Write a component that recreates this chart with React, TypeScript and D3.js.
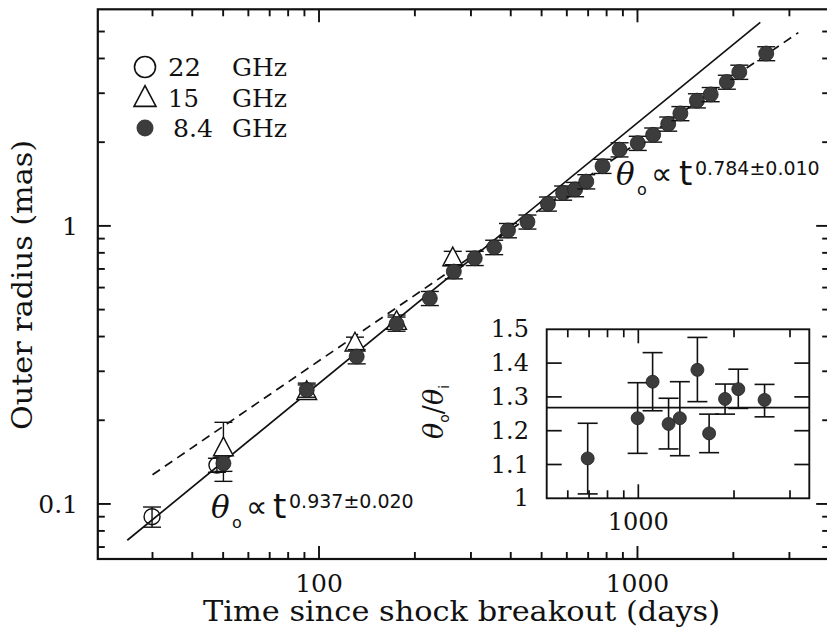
import React from 'react';
import * as d3 from 'd3';

// 8.4 GHz (filled circles)
const tX = [50.1, 91.5, 131.3, 175.2, 222.8, 265, 308.3, 354.9, 392.1, 451.3, 523.4, 584.2, 637, 690.6, 776.8, 878.4, 1002, 1120, 1249, 1364, 1537, 1698, 1908, 2088, 2537];
const rX = [0.140, 0.257, 0.339, 0.444, 0.549, 0.685, 0.765, 0.838, 0.963, 1.034, 1.200, 1.314, 1.353, 1.443, 1.640, 1.880, 1.984, 2.125, 2.327, 2.537, 2.821, 2.970, 3.291, 3.574, 4.167];
const eX = [0.009, 0.015, 0.02, 0.026, 0.032, 0.04, 0.045, 0.05, 0.057, 0.06, 0.07, 0.077, 0.08, 0.085, 0.096, 0.11, 0.116, 0.124, 0.136, 0.148, 0.165, 0.174, 0.19, 0.21, 0.24];

// 15 GHz (open triangles)
const tU = [50.1, 91.5, 129.7, 175.2, 263];
const rU = [0.1586, 0.253, 0.378, 0.452, 0.765];
const eU = [0.038, 0.015, 0.02, 0.026, 0.045];

// 22 GHz (open circles)
const tK = [29.9, 47.8];
const rK = [0.090, 0.138];
const eK = [0.0075, 0.008];

// power-law fits: [exponent, t at which norm is given, norm, t start, t end]
const fitEarly = [0.937, 100, 0.2714, 25, 2430];
const fitLate = [0.784, 1000, 1.99, 30, 3200];

// inset: ratio outer / inner radius
const tRatio = [693, 995, 1109, 1245, 1351, 1534, 1670, 1874, 2063, 2495];
const ratio = [1.118, 1.237, 1.345, 1.220, 1.237, 1.380, 1.192, 1.294, 1.323, 1.291];
const ratioLo = [1.013, 1.133, 1.259, 1.146, 1.126, 1.286, 1.135, 1.249, 1.266, 1.241];
const ratioHi = [1.222, 1.342, 1.431, 1.296, 1.345, 1.476, 1.249, 1.338, 1.382, 1.337];
const ratioMean = 1.268;
const ratioTicks = [1, 1.1, 1.2, 1.3, 1.4, 1.5];

const legendLabels = [['22', 'GHz'], ['15', 'GHz'], ['8.4', 'GHz']];

const SERIF = '"DejaVu Serif", serif';
const SANS = '"DejaVu Sans", sans-serif';
const INK = '#111';
const DOT = '#3c3c3c';

const App = () => {
  const x = d3.scaleLog().domain([20.2, 4000]).range([97.8, 829.2]);
  const y = d3.scaleLog().domain([0.0634, 6.01]).range([559, 9.3]);
  const [left, right] = x.range();
  const [bottom, top] = y.range();

  const isMajor = (v: number) => Math.abs(Math.log10(v) - Math.round(Math.log10(v))) < 1e-6;

  const xTicks = x.ticks().filter(t => x(t) > left + 2 && x(t) < right - 2);
  const yTicks = y.ticks().filter(t => y(t) < bottom - 2 && y(t) > top + 2);

  const fitLine = (f: number[]) => {
    const [p, t0, n, a, b] = f;
    const pts = [a, b].map(t => [x(t), y(n * Math.pow(t / t0, p))] as [number, number]);
    return d3.line()(pts) as string;
  };

  // inset
  const ix = d3.scaleLog().domain([515, 3450]).range([546.7, 809.3]);
  const iy = d3.scaleLinear().domain([1, 1.5]).range([498.3, 329.3]);
  const [il, ir] = ix.range();
  const [ib, it] = iy.range();
  const ixTicks = ix.ticks().filter(t => ix(t) > il + 2 && ix(t) < ir - 2);

  const errBar = (cx: number, v: number, e: number, key: string, cap = 9) => {
    const y0 = y(v - e), y1 = y(v + e);
    return (
      <g key={key} stroke={INK} strokeWidth={1.4}>
        <line x1={cx} x2={cx} y1={y0} y2={y1} />
        <line x1={cx - cap} x2={cx + cap} y1={y0} y2={y0} />
        <line x1={cx - cap} x2={cx + cap} y1={y1} y2={y1} />
      </g>
    );
  };

  const tri = (cx: number, cy: number, s: number) =>
    `M${cx},${cy - s * 0.62}L${cx + s * 0.55},${cy + s * 0.42}L${cx - s * 0.55},${cy + s * 0.42}Z`;

  const legendWidths = [33, 31, 40];

  return (
    <svg width={827} height={629} style={{ position: 'absolute', left: 0, top: 0, background: '#fff' }}>
      <rect width={827} height={629} fill="#fff" />

      {/* fits */}
      <path d={fitLine(fitEarly)} fill="none" stroke={INK} strokeWidth={1.7} />
      <path d={fitLine(fitLate)} fill="none" stroke={INK} strokeWidth={1.7} strokeDasharray="9,6" />

      {/* 22 GHz */}
      {tK.map((t, i) => (
        <g key={'k' + i}>
          {errBar(x(t), rK[i], eK[i], 'ke' + i)}
          <circle cx={x(t)} cy={y(rK[i])} r={8} fill="none" stroke={INK} strokeWidth={1.4} />
        </g>
      ))}

      {/* 15 GHz */}
      {tU.map((t, i) => (
        <g key={'u' + i}>
          {errBar(x(t), rU[i], eU[i], 'ue' + i)}
          <path d={tri(x(t), y(rU[i]), 18)} fill="#fff" stroke={INK} strokeWidth={1.4} />
        </g>
      ))}

      {/* 8.4 GHz */}
      {tX.map((t, i) => (
        <g key={'x' + i}>
          {errBar(x(t), rX[i], eX[i], 'xe' + i)}
          <circle cx={x(t)} cy={y(rX[i])} r={7.5} fill={DOT} stroke="#222" strokeWidth={0.8} />
        </g>
      ))}

      {/* frame and ticks */}
      <rect x={left} y={top} width={right - left} height={bottom - top} fill="none" stroke={INK} strokeWidth={2.2} />
      <g stroke={INK} strokeWidth={1.9}>
        {xTicks.map(t => {
          const L = isMajor(t) ? 13 : 7;
          return (
            <g key={'xt' + t}>
              <line x1={x(t)} x2={x(t)} y1={bottom} y2={bottom - L} />
              <line x1={x(t)} x2={x(t)} y1={top} y2={top + L} />
            </g>
          );
        })}
        {yTicks.map(t => {
          const L = isMajor(t) ? 13 : 7;
          return (
            <g key={'yt' + t}>
              <line x1={left} x2={left + L} y1={y(t)} y2={y(t)} />
              <line x1={right} x2={right - L} y1={y(t)} y2={y(t)} />
            </g>
          );
        })}
      </g>

      {/* tick labels */}
      <g fontFamily={SERIF} fontSize={25} fill={INK}>
        {xTicks.filter(isMajor).map(t => (
          <text key={'xl' + t} x={x(t)} y={592} textAnchor="middle">{d3.format('d')(t)}</text>
        ))}
        {yTicks.filter(isMajor).map(t => (
          <text key={'yl' + t} x={78} y={y(t) + 9} textAnchor="end">{t >= 1 ? d3.format('d')(t) : String(t)}</text>
        ))}
      </g>

      {/* axis titles */}
      <text x={(left + right) / 2 - 2} y={621} textAnchor="middle" fontFamily={SERIF} fontSize={27} fill={INK}
        textLength={517} lengthAdjust="spacingAndGlyphs">Time since shock breakout (days)</text>
      <text transform="translate(32,285) rotate(-90)" textAnchor="middle" fontFamily={SERIF} fontSize={27} fill={INK}
        textLength={290} lengthAdjust="spacingAndGlyphs">Outer radius (mas)</text>

      {/* legend */}
      <circle cx={145} cy={67} r={10.5} fill="none" stroke={INK} strokeWidth={1.6} />
      <path d={tri(145, 98, 20)} fill="none" stroke={INK} strokeWidth={1.6} />
      <circle cx={145} cy={128} r={8.5} fill={DOT} />
      <g fontFamily={SERIF} fontSize={24} fill={INK}>
        {legendLabels.map((l, i) => (
          <g key={'lg' + i}>
            <text x={i === 2 ? 173 : 168} y={76 + i * 30.5} textLength={legendWidths[i]} lengthAdjust="spacingAndGlyphs">{l[0]}</text>
            <text x={232} y={76 + i * 30.5} textLength={55} lengthAdjust="spacingAndGlyphs">{l[1]}</text>
          </g>
        ))}
      </g>

      {/* annotations */}
      <g fill={INK}>
        <text x={616} y={185} fontFamily={SERIF} fontStyle="italic" fontSize={31}>θ</text>
        <text x={637} y={195} fontFamily={SANS} fontSize={16}>o</text>
        <text x={651} y={184} fontFamily={SANS} fontSize={30}>∝</text>
        <text x={679} y={185} fontFamily={SANS} fontSize={34}>t</text>
        <text x={695} y={175} fontFamily={SANS} fontSize={19}>0.784±0.010</text>

        <text x={211} y={518} fontFamily={SERIF} fontStyle="italic" fontSize={31}>θ</text>
        <text x={232} y={528} fontFamily={SANS} fontSize={16}>o</text>
        <text x={246} y={517} fontFamily={SANS} fontSize={30}>∝</text>
        <text x={273} y={518} fontFamily={SANS} fontSize={34}>t</text>
        <text x={289} y={508} fontFamily={SANS} fontSize={19}>0.937±0.020</text>
      </g>

      {/* inset */}
      <rect x={il} y={it} width={ir - il} height={ib - it} fill="#fff" />
      <line x1={il} x2={ir} y1={iy(ratioMean)} y2={iy(ratioMean)} stroke={INK} strokeWidth={1.7} />
      {tRatio.map((t, i) => (
        <g key={'r' + i} stroke={INK} strokeWidth={1.6}>
          <line x1={ix(t)} x2={ix(t)} y1={iy(ratioLo[i])} y2={iy(ratioHi[i])} />
          <line x1={ix(t) - 10} x2={ix(t) + 10} y1={iy(ratioLo[i])} y2={iy(ratioLo[i])} />
          <line x1={ix(t) - 10} x2={ix(t) + 10} y1={iy(ratioHi[i])} y2={iy(ratioHi[i])} />
          <circle cx={ix(t)} cy={iy(ratio[i])} r={6.5} fill={DOT} stroke="#222" strokeWidth={0.8} />
        </g>
      ))}
      <rect x={il} y={it} width={ir - il} height={ib - it} fill="none" stroke={INK} strokeWidth={1.9} />
      <g stroke={INK} strokeWidth={1.7}>
        {ixTicks.map(t => {
          const L = isMajor(t) ? 14 : 8;
          return (
            <g key={'ixt' + t}>
              <line x1={ix(t)} x2={ix(t)} y1={ib} y2={ib - L} />
              <line x1={ix(t)} x2={ix(t)} y1={it} y2={it + L} />
            </g>
          );
        })}
        {ratioTicks.slice(1, -1).map(v => (
          <g key={'iyt' + v}>
            <line x1={il} x2={il + 15} y1={iy(v)} y2={iy(v)} />
            <line x1={ir} x2={ir - 15} y1={iy(v)} y2={iy(v)} />
          </g>
        ))}
      </g>
      <g fontFamily={SERIF} fontSize={24} fill={INK}>
        {ratioTicks.map(v => (
          <text key={'iyl' + v} x={529} y={iy(v) + 8} textAnchor="end">{String(v)}</text>
        ))}
        {ixTicks.filter(isMajor).map(t => (
          <text key={'ixl' + t} x={ix(t)} y={530} textAnchor="middle">{d3.format('d')(t)}</text>
        ))}
      </g>
      <text transform="translate(443,412) rotate(-90)" textAnchor="middle" fill={INK} fontSize={27}>
        <tspan fontFamily={SERIF} fontStyle="italic">θ</tspan>
        <tspan fontFamily={SANS} fontSize={14} dy={6}>o</tspan>
        <tspan fontFamily={SERIF} dy={-6}>/</tspan>
        <tspan fontFamily={SERIF} fontStyle="italic">θ</tspan>
        <tspan fontFamily={SANS} fontSize={14} dy={6}>i</tspan>
      </text>
    </svg>
  );
};

export default App;
